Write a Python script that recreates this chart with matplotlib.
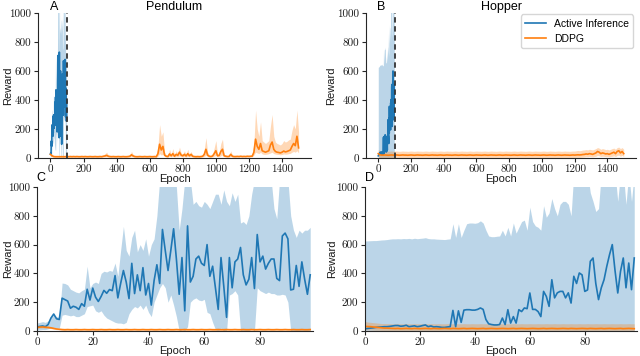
import numpy as np
import matplotlib
matplotlib.use('Agg')
import matplotlib.pyplot as plt

plt.rcParams['font.family'] = 'serif'
plt.rcParams['font.serif'] = ['cmr10', 'DejaVu Serif']
SANS = ['Liberation Sans', 'DejaVu Sans']

BLUE = '#1f77b4'
ORANGE = '#ff7f0e'

# ---- Active Inference, first 99 epochs ----
ai_epochs = np.arange(99)

pend_ai = [28, 32, 35, 30, 45, 90, 118, 85, 80, 228,
           218, 208, 158, 172, 165, 150, 190, 172, 290, 215,
           298, 235, 205, 240, 282, 262, 288, 280, 385, 230,
           330, 420, 340, 225, 470, 260, 390, 280, 440, 250,
           330, 180, 350, 460, 330, 705, 560, 420, 560, 710,
           500, 255, 510, 140, 730, 340, 380, 500, 520, 470,
           455, 600, 380, 450, 300, 150, 510, 310, 95, 510,
           300, 480, 500, 580, 390, 320, 360, 510, 295, 670,
           480, 520, 430, 470, 500, 500, 365, 350, 660, 680,
           640, 285, 290, 455, 310, 480, 360, 255, 390]
pend_ai_hi = [55, 60, 65, 60, 70, 100, 110, 100, 95,
              333, 330, 320, 290, 280, 270, 265, 280, 290,
              450, 300, 330, 340, 330, 400, 415, 410, 420, 415, 472, 380,
              560, 727, 560, 520, 650, 700, 550, 600, 560, 640, 520, 600, 640, 800,
              1050, 1100, 1100, 1100, 1100, 1100, 1000, 700, 850, 1050, 1050, 1050,
              880, 900, 870, 860, 900, 880, 850, 900, 950,
              950, 880, 980, 900, 870, 960, 900, 950, 750, 760, 740, 800, 950,
              1050, 1050, 1050, 1050, 1050, 1050, 1050,
              850, 780, 1050, 1050, 1050, 1050, 800, 700,
              650, 700, 680, 700, 700, 720]
pend_ai_lo = [5, 8, 10, 10, 15, 20, 25, 20, 20,
              110, 115, 110, 105, 110, 100, 100, 110, 120,
              170, 175, 180, 140, 130, 140,
              110, 90, 80, 70, 60, 55,
              55, 50, 60, 120, 150,
              170, 160, 180, 150, 180, 130,
              100, 200, 250, 300,
              330, 300, 200, 250, 180, 100,
              0, 10, 0, 30,
              200, 220, 230, 215, 210, 220,
              130, 120, 60, 10,
              0, 20, 0, 0,
              250, 260, 280, 250,
              0, 0, 0, 0, 20, 0,
              300, 280, 270, 260, 270, 260, 260,
              250, 250, 255, 250, 200,
              0, 0, 0, 0, 0, 0, 0, 0]

hop_ai = [15, 18, 20, 22, 25, 27, 28, 30, 30, 32, 35, 38, 38, 33, 35, 40,
          30, 33, 36, 30, 33, 38, 42, 30, 35, 28, 30, 28, 25, 25, 28, 30,
          143, 30, 140, 60, 145, 148, 148, 145, 145, 150, 160, 150,
          80, 50, 45, 42, 42, 45, 90, 45, 148, 55, 100, 55,
          148, 135, 160, 155, 264, 150, 150, 135, 100, 275, 240, 171,
          356, 230, 265, 275, 275, 230, 265, 194, 380, 330, 403, 390,
          275, 285, 484, 507, 330, 218, 300, 356, 449, 530, 600, 420,
          264, 414, 507, 300, 472, 287, 507]
hop_ai_hi = [625, 626, 627, 628, 628, 630, 632, 633, 635, 638, 640, 640, 641, 640, 642, 641,
             643, 640, 644, 641, 643, 645, 648, 642, 640, 640, 638, 637, 636, 635, 638, 640,
             745, 650, 745, 650, 700, 745, 750, 750, 748, 752, 765, 750,
             700, 660, 655, 655, 658, 660, 700, 660, 720, 660, 750, 680,
             720, 760, 770, 700, 860, 760, 730, 720, 700, 870, 790, 820,
             920, 850, 800, 880, 900, 900, 880, 800, 1100, 1100, 1100, 1100,
             1100, 1100, 960, 900, 830, 850, 1100, 1100, 1100, 1100, 1100, 1100,
             900, 1100, 1100, 880, 1100, 900, 1100]

# ---- DDPG, first 99 epochs ----
pend_ddpg_c = [25, 27, 28, 26, 25, 22, 18, 14, 12, 10,
               9, 10, 9, 9, 10, 9, 9, 10, 9, 9,
               10, 9, 9, 10, 9, 9, 10, 9, 9, 10,
               9, 9, 10, 9, 9, 10, 9, 9, 10, 9,
               9, 10, 9, 9, 10, 9, 9, 10, 9, 9,
               10, 9, 9, 10, 9, 9, 10, 9, 9, 10,
               9, 9, 10, 9, 9, 10, 9, 9, 10, 9,
               9, 10, 9, 9, 10, 9, 9, 10, 9, 9,
               10, 9, 9, 10, 9, 9, 10, 9, 9, 10,
               9, 9, 10, 9, 9, 10, 9, 9, 10]
pend_ddpg_c_hi = [33, 35, 36, 34, 33, 29, 24, 19, 16, 14,
                  13, 14, 13, 13, 14, 13, 13, 14, 13, 13,
                  14, 13, 13, 14, 13, 13, 14, 13, 13, 14,
                  13, 13, 14, 13, 13, 14, 13, 13, 14, 13,
                  13, 14, 13, 13, 14, 13, 13, 14, 13, 13,
                  14, 13, 13, 14, 13, 13, 14, 13, 13, 14,
                  13, 13, 14, 13, 13, 14, 13, 13, 14, 13,
                  13, 14, 13, 13, 14, 13, 13, 14, 13, 13,
                  14, 13, 13, 14, 13, 13, 14, 13, 13, 14,
                  13, 13, 14, 13, 13, 14, 13, 13, 14]
pend_ddpg_c_lo = [18, 20, 21, 19, 18, 16, 12, 9, 8, 6,
                  5, 6, 5, 5, 6, 5, 5, 6, 5, 5,
                  6, 5, 5, 6, 5, 5, 6, 5, 5, 6,
                  5, 5, 6, 5, 5, 6, 5, 5, 6, 5,
                  5, 6, 5, 5, 6, 5, 5, 6, 5, 5,
                  6, 5, 5, 6, 5, 5, 6, 5, 5, 6,
                  5, 5, 6, 5, 5, 6, 5, 5, 6, 5,
                  5, 6, 5, 5, 6, 5, 5, 6, 5, 5,
                  6, 5, 5, 6, 5, 5, 6, 5, 5, 6,
                  5, 5, 6, 5, 5, 6, 5, 5, 6]

hop_ddpg_d = [32, 31, 30, 28, 26, 24, 22, 20, 20, 19,
              18, 17, 18, 16, 17, 18, 17, 16, 18, 17,
              16, 17, 18, 17, 16, 18, 17, 16, 17, 18,
              17, 16, 18, 17, 16, 17, 18, 16, 17, 18,
              17, 16, 17, 18, 16, 17, 18, 17, 16, 17,
              18, 17, 16, 17, 18, 16, 17, 18, 17, 16,
              17, 18, 17, 16, 17, 18, 16, 17, 18, 17,
              16, 17, 18, 17, 16, 18, 17, 16, 17, 18,
              17, 16, 18, 17, 16, 17, 18, 16, 17, 18,
              17, 16, 17, 18, 16, 17, 18, 17, 16]
hop_ddpg_d_hi = [65, 62, 60, 58, 56, 54, 52, 52, 51, 51,
                 50, 50, 51, 50, 50, 51, 50, 50, 51, 50,
                 50, 51, 50, 50, 51, 50, 50, 51, 50, 50,
                 51, 50, 50, 51, 50, 50, 51, 50, 50, 51,
                 50, 50, 51, 50, 50, 51, 50, 50, 51, 50,
                 50, 51, 50, 50, 51, 50, 50, 51, 50, 50,
                 51, 50, 50, 51, 50, 50, 51, 50, 50, 51,
                 50, 50, 51, 50, 50, 51, 50, 50, 51, 50,
                 50, 51, 50, 50, 51, 50, 50, 51, 50, 50,
                 51, 50, 50, 51, 50, 50, 51, 50, 50]
hop_ddpg_d_lo = [8, 8, 7, 6, 5, 5, 4, 4, 4, 3,
                 3, 3, 3, 3, 3, 3, 3, 3, 3, 3,
                 3, 3, 3, 3, 3, 3, 3, 3, 3, 3,
                 3, 3, 3, 3, 3, 3, 3, 3, 3, 3,
                 3, 3, 3, 3, 3, 3, 3, 3, 3, 3,
                 3, 3, 3, 3, 3, 3, 3, 3, 3, 3,
                 3, 3, 3, 3, 3, 3, 3, 3, 3, 3,
                 3, 3, 3, 3, 3, 3, 3, 3, 3, 3,
                 3, 3, 3, 3, 3, 3, 3, 3, 3, 3,
                 3, 3, 3, 3, 3, 3, 3, 3, 3]

# ---- DDPG, full 1500 epochs (every 10th epoch) ----
ddpg_epochs = np.arange(0, 1501, 10)

pend_ddpg = [25, 15, 10, 9, 9, 9, 9, 9, 9, 9,
             10, 9, 10, 9, 10, 9, 10, 9, 9, 10,
             9, 10, 9, 9, 10, 9, 9, 10, 9, 9,
             10, 9, 12, 14, 18, 12, 10, 9, 10, 9,
             9, 10, 9, 9, 10, 9, 9, 10, 12, 22,
             14, 10, 9, 9, 10, 9, 9, 10, 9, 9,
             10, 9, 9, 10, 9, 30, 95, 55, 80, 20,
             12, 10, 28, 15, 30, 12, 25, 18, 40, 20,
             15, 25, 14, 30, 15, 25, 12, 10, 9, 10,
             9, 10, 12, 25, 60, 20, 12, 10, 14, 30,
             50, 15, 18, 45, 60, 15, 12, 10, 11, 25,
             12, 10, 10, 11, 10, 12, 10, 11, 10, 12,
             11, 12, 13, 40, 130, 80, 60, 100, 50, 45,
             40, 45, 50, 90, 110, 60, 45, 40, 38, 35,
             40, 48, 42, 45, 50, 55, 80, 100, 85, 150,
             70]
pend_ddpg_hi = [35, 25, 15, 13, 13, 13, 13, 13, 13, 13,
                14, 13, 14, 13, 14, 13, 14, 13, 13, 14,
                13, 14, 13, 13, 14, 13, 13, 14, 13, 13,
                14, 13, 20, 30, 40, 20, 14, 13, 14, 13,
                13, 14, 13, 13, 14, 13, 13, 14, 20, 45,
                25, 14, 13, 13, 14, 13, 13, 14, 13, 13,
                14, 13, 13, 14, 13, 80, 230, 150, 180, 40,
                20, 15, 60, 25, 65, 20, 50, 30, 75, 35,
                25, 50, 22, 60, 25, 45, 20, 14, 13, 14,
                13, 14, 20, 60, 140, 40, 20, 14, 25, 70,
                120, 25, 35, 100, 130, 25, 20, 14, 16, 50,
                20, 14, 14, 16, 14, 18, 14, 16, 14, 18,
                16, 18, 20, 100, 330, 200, 150, 250, 120, 110,
                100, 110, 120, 220, 300, 150, 110, 100, 95, 90,
                100, 120, 110, 115, 125, 130, 190, 230, 200, 330,
                180]
pend_ddpg_lo = [15, 8, 6, 5, 5, 5, 5, 5, 5, 5,
                6, 5, 6, 5, 6, 5, 6, 5, 5, 6,
                5, 6, 5, 5, 6, 5, 5, 6, 5, 5,
                6, 5, 6, 7, 8, 6, 6, 5, 6, 5,
                5, 6, 5, 5, 6, 5, 5, 6, 6, 10,
                7, 6, 5, 5, 6, 5, 5, 6, 5, 5,
                6, 5, 5, 6, 5, 12, 30, 20, 25, 10,
                7, 6, 12, 8, 12, 7, 10, 8, 15, 9,
                8, 10, 7, 12, 8, 10, 7, 6, 5, 6,
                5, 6, 7, 10, 20, 9, 7, 6, 7, 12,
                18, 8, 9, 15, 20, 8, 7, 6, 6, 10,
                7, 6, 6, 7, 6, 7, 6, 7, 6, 7,
                7, 7, 8, 20, 40, 35, 30, 40, 28, 25,
                25, 27, 30, 35, 40, 30, 27, 25, 24, 22,
                24, 28, 26, 27, 30, 32, 40, 45, 40, 50,
                35]

hop_ddpg = [30, 22, 20, 20, 21, 20, 19, 20, 21, 20,
            20, 21, 20, 19, 20, 21, 20, 20, 19, 20,
            21, 20, 19, 20, 21, 20, 20, 19, 20, 21,
            20, 19, 20, 21, 20, 20, 19, 20, 21, 20,
            19, 20, 21, 20, 20, 19, 20, 21, 20, 19,
            20, 21, 20, 20, 19, 20, 21, 20, 19, 20,
            21, 20, 20, 19, 20, 21, 20, 19, 20, 21,
            20, 20, 19, 20, 21, 20, 19, 20, 21, 20,
            20, 19, 20, 21, 20, 19, 20, 21, 20, 20,
            19, 20, 21, 20, 19, 20, 21, 20, 20, 19,
            20, 21, 20, 19, 20, 21, 20, 20, 19, 20,
            21, 20, 19, 20, 21, 20, 20, 19, 20, 21,
            20, 21, 22, 21, 22, 24, 25, 28, 26, 30,
            28, 25, 30, 35, 45, 40, 30, 35, 32, 28,
            30, 25, 30, 35, 40, 30, 45, 50, 35, 45,
            30]
hop_ddpg_hi = [58, 50, 47, 47, 48, 47, 46, 47, 48, 47,
               47, 48, 47, 46, 47, 48, 47, 47, 46, 47,
               48, 47, 46, 47, 48, 47, 47, 46, 47, 48,
               47, 46, 47, 48, 47, 47, 46, 47, 48, 47,
               46, 47, 48, 47, 47, 46, 47, 48, 47, 46,
               47, 48, 47, 47, 46, 47, 48, 47, 46, 47,
               48, 47, 47, 46, 47, 48, 47, 46, 47, 48,
               47, 47, 46, 47, 48, 47, 46, 47, 48, 47,
               47, 46, 47, 48, 47, 46, 47, 48, 47, 47,
               46, 47, 48, 47, 46, 47, 48, 47, 47, 46,
               47, 48, 47, 46, 47, 48, 47, 47, 46, 47,
               48, 47, 46, 47, 48, 47, 47, 46, 47, 48,
               48, 50, 52, 50, 52, 55, 56, 58, 56, 60,
               58, 56, 60, 65, 72, 68, 60, 65, 62, 58,
               60, 56, 60, 65, 68, 60, 72, 75, 65, 72,
               60]
hop_ddpg_lo = [6, 4, 3, 3, 3, 3, 3, 3, 3, 3,
               3, 3, 3, 3, 3, 3, 3, 3, 3, 3,
               3, 3, 3, 3, 3, 3, 3, 3, 3, 3,
               3, 3, 3, 3, 3, 3, 3, 3, 3, 3,
               3, 3, 3, 3, 3, 3, 3, 3, 3, 3,
               3, 3, 3, 3, 3, 3, 3, 3, 3, 3,
               3, 3, 3, 3, 3, 3, 3, 3, 3, 3,
               3, 3, 3, 3, 3, 3, 3, 3, 3, 3,
               3, 3, 3, 3, 3, 3, 3, 3, 3, 3,
               3, 3, 3, 3, 3, 3, 3, 3, 3, 3,
               3, 3, 3, 3, 3, 3, 3, 3, 3, 3,
               3, 3, 3, 3, 3, 3, 3, 3, 3, 3,
               3, 4, 4, 4, 5, 6, 7, 9, 8, 10,
               9, 8, 10, 12, 18, 15, 10, 12, 11, 9,
               10, 8, 10, 12, 15, 10, 18, 20, 12, 18,
               10]

reward_ticks = [0, 200, 400, 600, 800, 1000]
long_ticks = [0, 200, 400, 600, 800, 1000, 1200, 1400]
short_ticks = [0, 20, 40, 60, 80]


fig = plt.figure(figsize=(6.4, 3.56), dpi=100)


def px_axes(l, t, r, b):
    return fig.add_axes([l / 640, 1 - b / 356, (r - l) / 640, (b - t) / 356])


def style(ax, xticks, xlim, ylab_x, xlab_y):
    ax.set_ylim(0, 1000)
    ax.set_xlim(*xlim)
    ax.set_yticks(reward_ticks)
    ax.set_xticks(xticks)
    for s in ['top', 'right']:
        ax.spines[s].set_visible(False)
    for s in ['left', 'bottom']:
        ax.spines[s].set_color('0.15')
        ax.spines[s].set_linewidth(0.8)
    ax.tick_params(labelsize=8, length=3, width=0.8, color='0.15', pad=2, labelcolor='0.1')
    ax.set_ylabel('Reward', fontfamily=SANS, fontsize=8, color='0.1')
    ax.set_xlabel('Epoch', fontfamily=SANS, fontsize=8, color='0.1')
    ax.yaxis.set_label_coords(ylab_x, 0.5)
    ax.xaxis.set_label_coords(0.5, xlab_y)


def draw_band(ax, x, mean, lo, hi, color, label=None):
    ax.fill_between(x, lo, hi, color=color, alpha=0.3, lw=0)
    ax.plot(x, mean, color=color, lw=1.2, label=label)


axA = px_axes(38, 13, 311, 158)
axB = px_axes(366, 13, 636, 158)
axC = px_axes(37, 187, 313, 331)
axD = px_axes(365, 187, 637, 331)

# A: Pendulum, full run
draw_band(axA, ai_epochs, pend_ai, pend_ai_lo, pend_ai_hi, BLUE, 'Active Inference')
draw_band(axA, ddpg_epochs, pend_ddpg, pend_ddpg_lo, pend_ddpg_hi, ORANGE, 'DDPG')
axA.axvline(100, color='0.2', ls=(0, (3, 2)), lw=1.3)
axA.set_title('Pendulum', fontfamily=SANS, fontsize=9, pad=2)
style(axA, long_ticks, (-75, 1575), -0.092, -0.11)

# B: Hopper, full run
axB.fill_between(ai_epochs, hop_ai_hi, color=BLUE, alpha=0.3, lw=0)
axB.plot(ai_epochs, hop_ai, color=BLUE, lw=1.2, label='Active Inference')
draw_band(axB, ddpg_epochs, hop_ddpg, hop_ddpg_lo, hop_ddpg_hi, ORANGE, 'DDPG')
axB.axvline(100, color='0.2', ls=(0, (3, 2)), lw=1.3)
axB.set_title('Hopper', fontfamily=SANS, fontsize=9, pad=2)
style(axB, long_ticks, (-75, 1575), -0.111, -0.11)
axB.legend(loc='upper right', bbox_to_anchor=(0.99, 0.99), borderaxespad=0,
           prop={'family': SANS, 'size': 7.5}, edgecolor='0.8', handlelength=2.0)

# C: Pendulum, first 100 epochs
draw_band(axC, ai_epochs, pend_ai, pend_ai_lo, pend_ai_hi, BLUE)
draw_band(axC, ai_epochs, pend_ddpg_c, pend_ddpg_c_lo, pend_ddpg_c_hi, ORANGE)
style(axC, short_ticks, (0, 99), -0.087, -0.104)

# D: Hopper, first 100 epochs
axD.fill_between(ai_epochs, hop_ai_hi, color=BLUE, alpha=0.3, lw=0)
axD.plot(ai_epochs, hop_ai, color=BLUE, lw=1.2)
draw_band(axD, ai_epochs, hop_ddpg_d, hop_ddpg_d_lo, hop_ddpg_d_hi, ORANGE)
style(axD, short_ticks, (0, 99), -0.103, -0.104)

for letter, x, y in [('A', 50, 1.5), ('B', 377, 1.5), ('C', 36, 172), ('D', 365, 172)]:
    fig.text(x / 640, 1 - y / 356, letter, fontfamily=SANS, fontsize=9, va='top', ha='left')

fig.savefig('out.png', dpi=100)
